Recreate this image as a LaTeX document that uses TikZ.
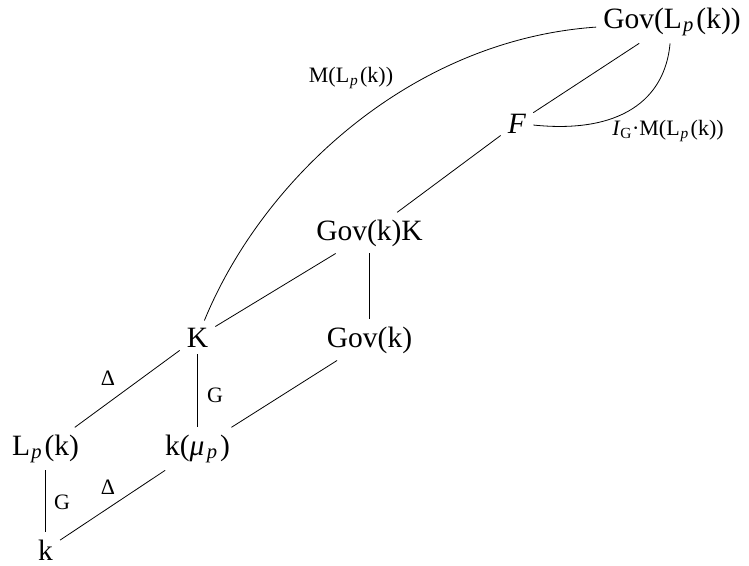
\documentclass[tikz,border=0pt]{standalone}
\usepackage{fontspec}
\setmainfont{Liberation Serif}
\newcommand{\mysub}[1]{\textsubscript{\kern0.06em\textit{#1}\kern0.12em}}
\tikzset{
  obj/.style={font=\fontsize{29.5}{31}\selectfont, inner sep=7pt, anchor=base},
  lab/.style={font=\fontsize{22}{24}\selectfont, inner sep=0pt},
  conn/.style={line width=0.8pt}
}
\begin{document}
\begin{tikzpicture}[x=1pt,y=-1pt]
\useasboundingbox (0,0) rectangle (749,565);
\node[obj] (GovL) at (672,28) {Gov(L\mysub{p}(k))};
\node[obj] (F) at (517,133) {\textit{F}};
\node[obj] (GovkK) at (369.5,240) {Gov(k)K};
\node[obj] (K) at (197.5,347) {K};
\node[obj] (Govk) at (369.5,347) {Gov(k)};
\node[obj] (Lp) at (45.5,455) {L\mysub{p}(k)};
\node[obj] (kmu) at (197.5,455) {k(\textit{μ}\kern0.04em\mysub{p})};
\node[obj] (k) at (45.5,560) {k};

\node[lab] (Mlab) at (351,78) {M(L\mysub{p}(k))};
\node[lab] (Ilab) at (668,131) {\textit{I}\textsubscript{G}·M(L\mysub{p}(k))};
\node[lab] (D1) at (108,378) {Δ};
\node[lab] (G1) at (215,395) {G};
\node[lab] (D2) at (108,487) {Δ};
\node[lab] (G2) at (62,502) {G};

\draw[conn] (Lp) -- (K);
\draw[conn] (K) -- (kmu);
\draw[conn] (kmu) -- (Govk);
\draw[conn] (k) -- (kmu);
\draw[conn] (Lp) -- (k);
\draw[conn] (K) -- (GovkK);
\draw[conn] (GovkK) -- (Govk);
\draw[conn] (GovkK) -- (F);
\draw[conn] (F) -- (GovL);
\draw[conn] (K) .. controls (262,180) and (410,40) .. (GovL);
\draw[conn] (F) .. controls (620,134) and (665,100) .. (GovL);
\end{tikzpicture}
\end{document}
